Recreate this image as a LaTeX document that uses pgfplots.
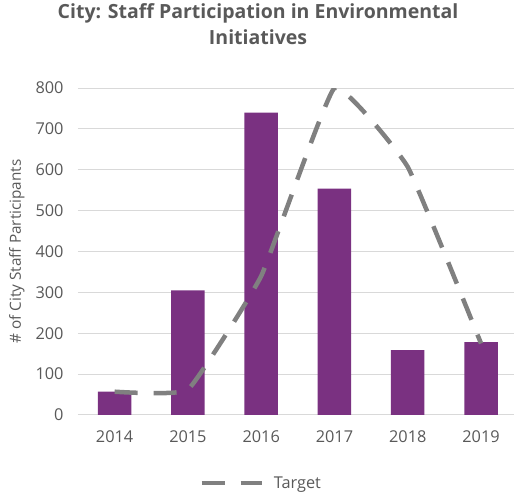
\documentclass[border=0pt]{standalone}
\usepackage{fontspec}
\setmainfont{Open Sans}
\usepackage{pgfplots}
\pgfplotsset{compat=1.18}
\definecolor{barpurple}{HTML}{7A3181}
\definecolor{txtgray}{HTML}{595959}
\definecolor{gridgray}{HTML}{D9D9D9}
\definecolor{linegray}{HTML}{808080}
\begin{document}
\begin{tikzpicture}
\path[use as bounding box] (0,0) rectangle (515pt,496pt);
\begin{axis}[
  at={(78pt,81pt)}, anchor=south west,
  scale only axis,
  width=436pt, height=327pt,
  xmin=-0.5, xmax=5.45,
  ymin=0, ymax=800,
  ytick={0,100,...,800},
  xtick={0,...,5},
  xticklabels={2014,2015,2016,2017,2018,2019},
  ymajorgrids, major grid style={gridgray, line width=1pt},
  axis line style={draw=none},
  tick style={draw=none},
  /pgf/number format/assume math mode=true,
  ticklabel style={font=\fontsize{16.3}{19}\selectfont, text=txtgray},
  yticklabel style={xshift=-11pt},
  xticklabel style={yshift=-12pt},
  ylabel={\# of City Staff Participants},
  ylabel style={at={(axis description cs:-0.14,0.5)}, anchor=center, rotate=0, font=\fontsize{15.3}{18}\selectfont, text=txtgray},
  title={City: Staff Participation in Environmental\\Initiatives},
  title style={at={(axis description cs:0.413,1.177)}, anchor=center, align=center, font=\fontsize{19.5}{26}\bfseries\selectfont, text=txtgray},
  legend style={at={(axis description cs:0.42,-0.208)}, anchor=center, draw=none, fill=none, font=\fontsize{16.3}{19}\selectfont, text=txtgray, /tikz/every odd column/.append style={column sep=8pt}},
  legend image code/.code={\draw[#1] (0pt,0pt) -- (60pt,0pt);},
]
\addplot[ybar, bar width=33.5pt, fill=barpurple, draw=none, forget plot] coordinates {
  (0,57) (1,305) (2,740) (3,554) (4,159) (5,178)
};
\addplot[smooth, tension=0.2, linegray, line width=4.5pt, dash pattern=on 23pt off 16pt] coordinates {
  (0,57) (1,62) (2,340) (3,800) (4,607) (5,175)
};
\addlegendentry{Target}
\end{axis}
\end{tikzpicture}
\end{document}
